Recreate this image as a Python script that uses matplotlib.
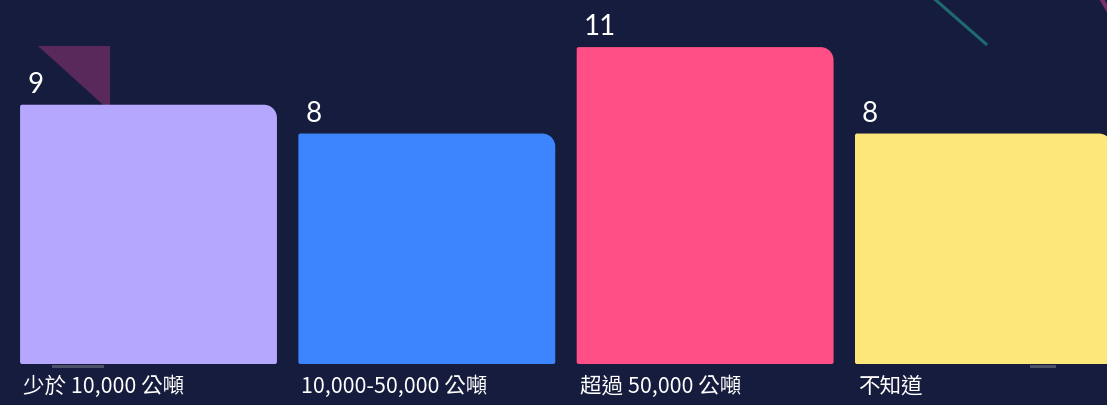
import matplotlib.pyplot as plt
from matplotlib.path import Path
from matplotlib.patches import PathPatch, Polygon, Rectangle
from matplotlib.lines import Line2D

plt.rcParams['font.family'] = ['Noto Sans CJK TC', 'DejaVu Sans']

# Survey answers
categories = ["少於 10,000 公噸", "10,000-50,000 公噸", "超過 50,000 公噸", "不知道"]
counts = [9, 8, 11, 8]
colors = ["#b4a7fd", "#3d84ff", "#ff4f86", "#fde67a"]

BG = "#161c3d"
W, H = 1107, 406

fig = plt.figure(figsize=(W / 100, H / 100), dpi=100, facecolor=BG)
ax = fig.add_axes([0, 41 / H, 1, 365 / H])
ax.set_facecolor("none")
ax.set_xlim(-0.5336, 3.444)
ax.set_ylim(0, 12.67)
ax.axis("off")

# background shapes (figure pixels, origin top-left), kept behind the axes
def fx(px):
    return px / W

def fy(py):
    return 1 - py / H

fig.patches.append(Polygon([(fx(38), fy(47)), (fx(110), fy(47)), (fx(110), fy(112))],
                           closed=True, facecolor="#59295c", edgecolor="none",
                           transform=fig.transFigure, zorder=-1))
fig.lines.append(Line2D([fx(930), fx(986)], [fy(-4), fy(45)], color="#1e6a70",
                        lw=2.2, transform=fig.transFigure, zorder=-1))
fig.lines.append(Line2D([fx(1101), fx(1108)], [fy(-1), fy(11)], color="#7a2d6e",
                        lw=3, transform=fig.transFigure, zorder=-1))
fig.patches.append(Rectangle((fx(52), fy(369)), fx(52), 3 / H, facecolor="#4d5168",
                             edgecolor="none", transform=fig.transFigure, zorder=-1))
fig.patches.append(Rectangle((fx(1030), fy(369)), fx(26), 3 / H, facecolor="#4d5168",
                             edgecolor="none", transform=fig.transFigure, zorder=-1))

bars = ax.bar(range(len(counts)), counts, width=0.923, color=colors, zorder=2)

# data units per pixel
dx = (ax.get_xlim()[1] - ax.get_xlim()[0]) / W
dy = (ax.get_ylim()[1] - ax.get_ylim()[0]) / 365

def rounded_bar(x0, w, h, r_px=13, r_small=2):
    rx, ry = r_px * dx, r_px * dy
    sx, sy = r_small * dx, r_small * dy
    x1 = x0 + w
    k = 0.45
    verts = [
        (x0 + sx, 0), (x1 - sx, 0),
        (x1, 0), (x1, sy),
        (x1, h - ry),
        (x1, h - ry * k), (x1 - rx * k, h), (x1 - rx, h),
        (x0 + sx, h),
        (x0, h), (x0, h - sy),
        (x0, sy),
        (x0, 0), (x0 + sx, 0),
    ]
    codes = [Path.MOVETO, Path.LINETO,
             Path.CURVE3, Path.CURVE3,
             Path.LINETO,
             Path.CURVE4, Path.CURVE4, Path.CURVE4,
             Path.LINETO,
             Path.CURVE3, Path.CURVE3,
             Path.LINETO,
             Path.CURVE3, Path.CURVE3]
    return Path(verts, codes)

for bar, c, v, label in zip(bars, colors, counts, categories):
    x0, w = bar.get_x(), bar.get_width()
    bar.set_visible(False)
    ax.add_patch(PathPatch(rounded_bar(x0, w, v), facecolor=c, edgecolor="none",
                           zorder=2, clip_on=False))
    ax.text(x0 + 7 * dx, v + 21 * dy, str(v), color="white", fontsize=20,
            family=["Lato", "DejaVu Sans"], ha="left", va="center", zorder=3)
    ax.text(x0 + 3 * dx, -22 * dy, label, color="white", fontsize=15.5,
            ha="left", va="center", clip_on=False)

fig.savefig("out.png", dpi=100, facecolor=BG)
